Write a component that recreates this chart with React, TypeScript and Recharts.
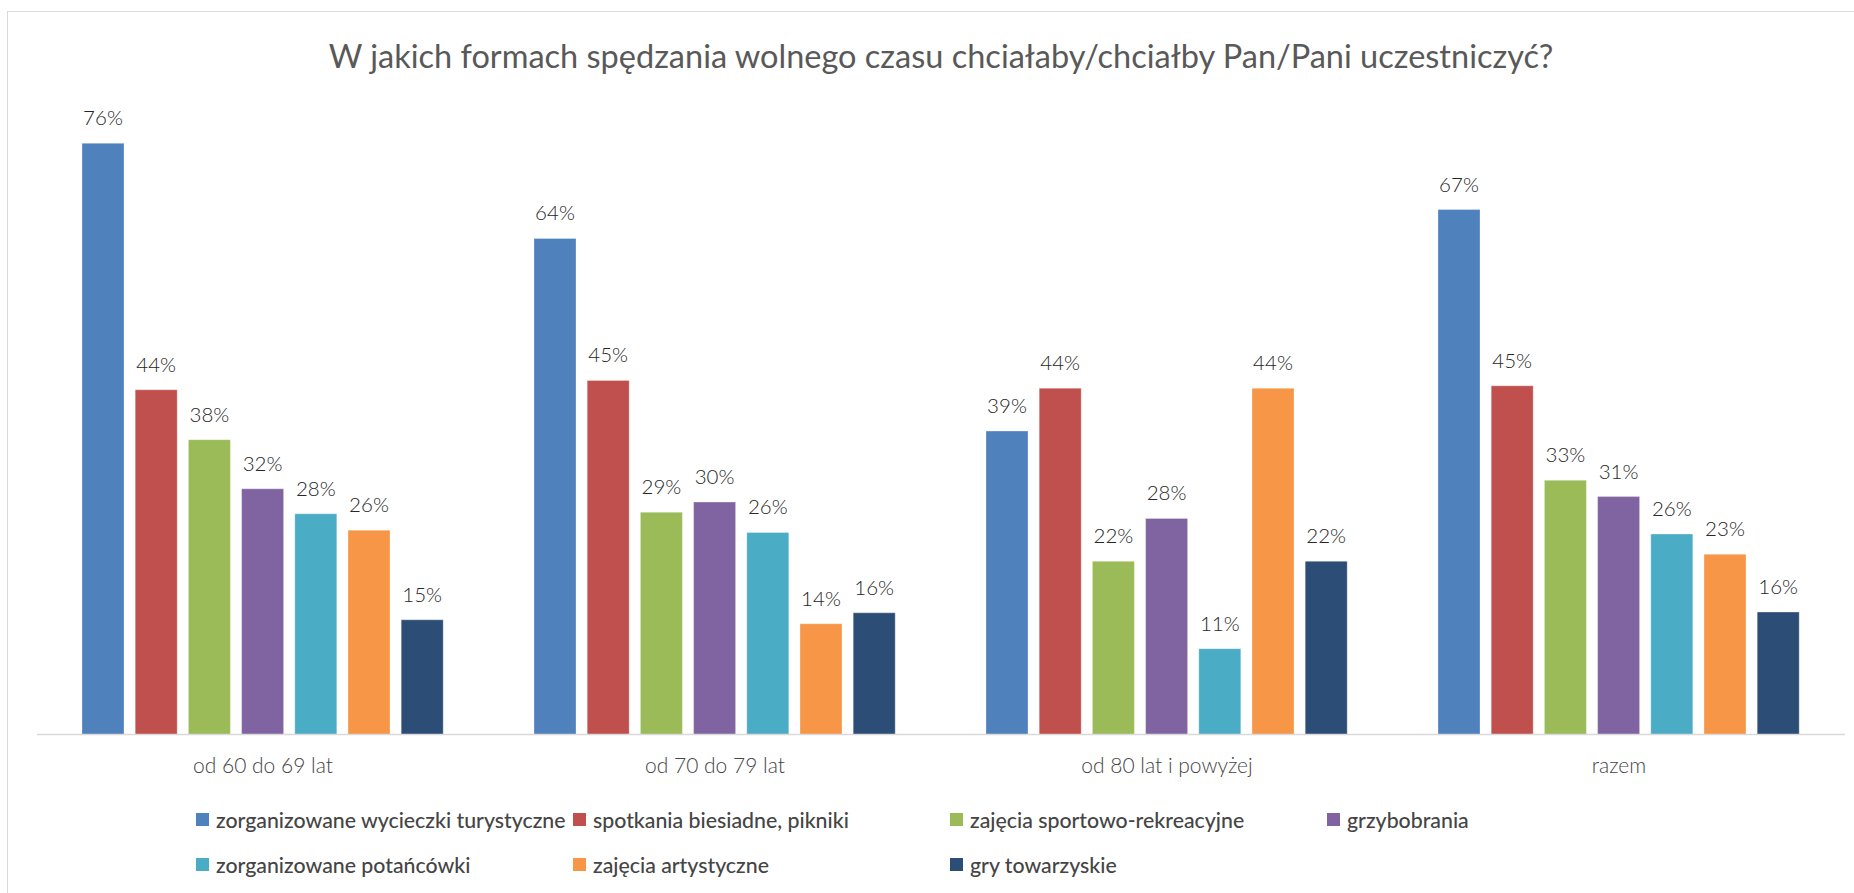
import { Bar, BarChart, LabelList, Legend, XAxis, YAxis } from "recharts";

const categories = ["od 60 do 69 lat", "od 70 do 79 lat", "od 80 lat i powyżej", "razem"];

const seriesNames = [
  "zorganizowane wycieczki turystyczne",
  "spotkania biesiadne, pikniki",
  "zajęcia sportowo-rekreacyjne",
  "grzybobrania",
  "zorganizowane potańcówki",
  "zajęcia artystyczne",
  "gry towarzyskie",
];

const seriesColors = ["#4F81BD", "#C0504D", "#9BBB59", "#8064A2", "#4BACC6", "#F79646", "#2C4D75"];

// percentages, one value per age group
const wycieczki = [75.8, 63.6, 38.9, 67.3];
const spotkania = [44.2, 45.4, 44.4, 44.7];
const sportowe = [37.8, 28.5, 22.2, 32.6];
const grzybobrania = [31.5, 29.8, 27.7, 30.5];
const potancowki = [28.3, 25.9, 11.0, 25.7];
const artystyczne = [26.2, 14.2, 44.4, 23.1];
const gry = [14.7, 15.6, 22.2, 15.7];

const seriesValues = [wycieczki, spotkania, sportowe, grzybobrania, potancowki, artystyczne, gry];

const data = categories.map((name, i) => {
  const row: Record<string, string | number> = { name };
  seriesValues.forEach((values, j) => {
    row[`s${j}`] = values[i];
  });
  return row;
});

const FONT = "Lato, 'Open Sans', sans-serif";
const W = 1854;
const H = 893;

function CategoryTick({ x, y, payload }: any) {
  return (
    <text x={x} y={y + 30.5} textAnchor="middle" fill="#454545" fontFamily={FONT} fontSize={21} fontWeight={300}>
      {payload.value}
    </text>
  );
}

function LegendGrid({ payload }: any) {
  // recharts sorts legend items by name; keep the series order instead
  const items = [...(payload ?? [])].sort(
    (a: any, b: any) => seriesNames.indexOf(a.value) - seriesNames.indexOf(b.value)
  );
  return (
    <div style={{ position: "relative", width: W, height: 90, fontFamily: FONT }}>
      {items.map((item: any, i: number) => {
        const col = i % 4;
        const row = Math.floor(i / 4);
        return (
          <div
            key={item.value}
            style={{
              position: "absolute",
              left: 196 + col * 377,
              top: row * 45,
              height: 45,
              display: "flex",
              alignItems: "center",
              whiteSpace: "nowrap",
            }}
          >
            <span style={{ width: 13, height: 13, background: item.color, marginRight: 7, display: "inline-block" }} />
            <span style={{ fontSize: 21.3, color: "#454545", fontWeight: 500 }}>{item.value}</span>
          </div>
        );
      })}
    </div>
  );
}

export default function App() {
  return (
    <div style={{ position: "absolute", left: 0, top: 0, width: W, height: H, overflow: "hidden", background: "#fff" }}>
      <div style={{ position: "absolute", left: 7, top: 11, width: 2000, height: 1000, border: "1px solid #D9D9D9" }} />
      <div
        style={{
          position: "absolute",
          left: 37,
          width: 1808,
          top: 39,
          textAlign: "center",
          fontFamily: FONT,
          fontSize: 32.5,
          lineHeight: "33px",
          color: "#595959",
          whiteSpace: "nowrap",
        }}
      >
        W jakich formach spędzania wolnego czasu chciałaby/chciałby Pan/Pani uczestniczyć?
      </div>
      <div style={{ position: "absolute", left: 0, top: 0 }}>
        <BarChart
          width={W}
          height={H}
          data={data}
          margin={{ top: 110.5, right: 9, bottom: 6, left: 37 }}
          barCategoryGap="10%"
          barGap={11.2}
        >
          <XAxis
            dataKey="name"
            height={62.5}
            axisLine={{ stroke: "#D9D9D9", strokeWidth: 1.5 }}
            tickLine={false}
            tick={<CategoryTick />}
            interval={0}
          />
          <YAxis hide domain={[0, 80]} />
          <Legend verticalAlign="bottom" content={<LegendGrid />} wrapperStyle={{ left: 0, width: W }} />
          {seriesNames.map((name, j) => (
            <Bar
              key={name}
              dataKey={`s${j}`}
              name={name}
              fill={seriesColors[j]}
              barSize={42}
              stroke="#ffffff"
              strokeOpacity={0.3}
              isAnimationActive={false}
            >
              <LabelList
                dataKey={`s${j}`}
                position="top"
                offset={18}
                formatter={(v: any) => `${Math.round(Number(v))}%`}
                fill="#262626"
                fontFamily={FONT}
                fontSize={20.5}
                fontWeight={300}
              />
            </Bar>
          ))}
        </BarChart>
      </div>
    </div>
  );
}
